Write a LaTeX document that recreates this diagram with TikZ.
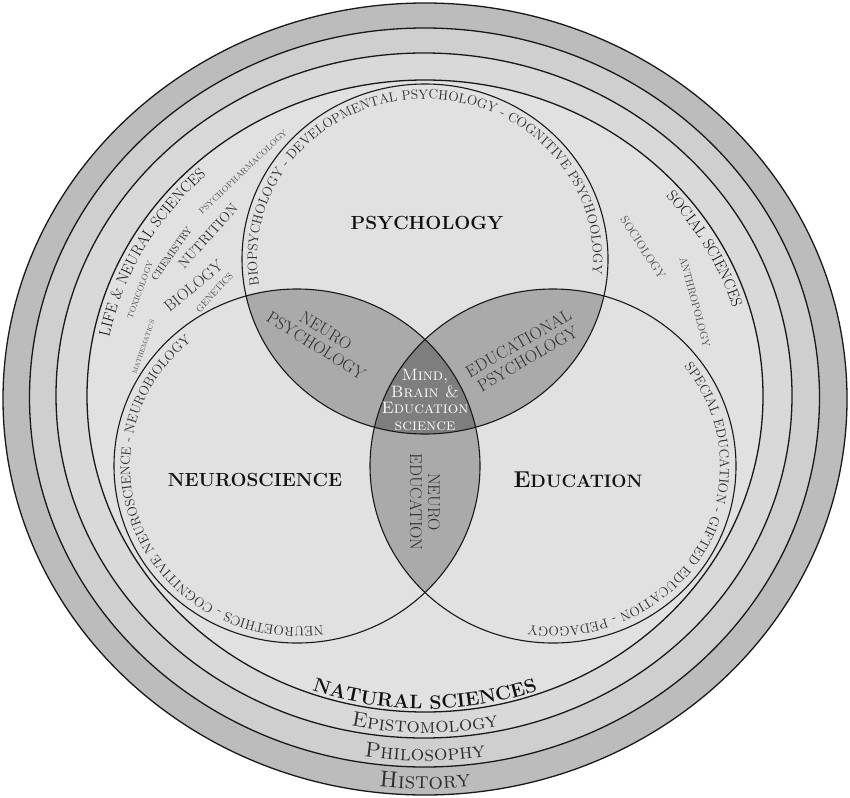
\documentclass[tikz,border=0pt]{standalone}
\usetikzlibrary{decorations.text}
\definecolor{bandA}{HTML}{BCBCBC}
\definecolor{bandB}{HTML}{CFCFCF}
\definecolor{bandC}{HTML}{D9D9D9}
\definecolor{bandD}{HTML}{E1E1E1}
\definecolor{lensgray}{HTML}{AAAAAA}
\definecolor{coregray}{HTML}{7E7E7E}
\definecolor{inkdark}{HTML}{121212}
\definecolor{inkmid}{HTML}{2E2E2E}
\definecolor{inklight}{HTML}{505050}
\newcommand\fsz[1]{\fontsize{#1}{#1}\selectfont}
\tikzset{
  ring/.style={draw=black!90, line width=1.3pt},
  venn/.style={draw=black!90, line width=1.1pt},
  curvedmid/.style={decorate, decoration={text along path, text align=center, text color=inkmid, text={#1}}},
  curveddark/.style={decorate, decoration={text along path, text align=center, text color=inkdark, text={#1}}},
  title/.style={text=inkdark, inner sep=0pt},
  lenslabel/.style={text=inkmid, align=center, inner sep=0pt, font=\fontsize{17}{18}\selectfont},
  smalltxt/.style={text=inklight, inner sep=0pt},
}
\begin{document}
\begin{tikzpicture}[x=1pt,y=1pt]
\useasboundingbox (0,0) rectangle (850,-797);
\fill[white] (0,0) rectangle (850,-797);
% outer bands
\filldraw[ring, fill=bandA] (425,-399) ellipse [x radius=422, y radius=396];
\filldraw[ring, fill=bandB] (424.5,-397.5) ellipse [x radius=395, y radius=369.5];
\filldraw[ring, fill=bandC] (424,-395.5) ellipse [x radius=368, y radius=342.5];
\filldraw[ring, fill=bandD] (425,-396) ellipse [x radius=338, y radius=316];
\coordinate (cD) at (425,-396);
% Venn
\coordinate (cP) at (425,-259);
\coordinate (cN) at (297,-466);
\coordinate (cE) at (553,-466);
\begin{scope}
  \clip (cP) ellipse [x radius=183, y radius=175];
  \fill[lensgray] (cN) ellipse [x radius=183, y radius=177];
  \fill[lensgray] (cE) ellipse [x radius=183, y radius=177];
\end{scope}
\begin{scope}
  \clip (cN) ellipse [x radius=183, y radius=177];
  \fill[lensgray] (cE) ellipse [x radius=183, y radius=177];
\end{scope}
\begin{scope}
  \clip (cP) ellipse [x radius=183, y radius=175];
  \clip (cN) ellipse [x radius=183, y radius=177];
  \fill[coregray] (cE) ellipse [x radius=183, y radius=177];
\end{scope}
\draw[venn] (cP) ellipse [x radius=183, y radius=175];
\draw[venn] (cN) ellipse [x radius=183, y radius=177];
\draw[venn] (cE) ellipse [x radius=183, y radius=177];
% texts along circles
\path[shift={(cP)}, curvedmid={|\fsz{13.5}|BIOPSYCHOLOGY - DEVELOPMENTAL PSYCHOLOGY - COGNITIVE PSYCHOOLOGY}]
  (202:168 and 160) arc[start angle=202, end angle=-18, x radius=168, y radius=160];
\path[shift={(cN)}, curvedmid={|\fsz{13.5}|NEUROETHICS - COGNITIVE NEUROSCIENCE - NEUROBIOLOGY}]
  (-56:167 and 161) arc[start angle=-56, end angle=-256, x radius=167, y radius=161];
\path[shift={(cE)}, curvedmid={|\fsz{13.5}|SPECIAL EDUCATION - GIFTED EDUCATION - PEDAGOGY}]
  (70:167 and 161) arc[start angle=70, end angle=-130, x radius=167, y radius=161];
% texts along ellipses
\path[shift={(cD)}, curveddark={|\fsz{15.5}|LIFE {\&} NEURAL SCIENCES}]
  (181:322 and 300) arc[start angle=181, end angle=121, x radius=322, y radius=300];
\path[shift={(cD)}, curveddark={|\fsz{15.5}|SOCIAL SCIENCES}]
  (59:322 and 300) arc[start angle=59, end angle=-1, x radius=322, y radius=300];
\path[shift={(cD)}, curveddark={|\fsz{19.5}\bfseries|NATURAL SCIENCES}]
  (-130:335 and 313) arc[start angle=-130, end angle=-50, x radius=335, y radius=313];
\path[shift={(cD)}, curvedmid={|\fsz{21}\scshape|Epistomology}]
  (-120:358 and 337) arc[start angle=-120, end angle=-60, x radius=358, y radius=337];
\path[shift={(cD)}, curvedmid={|\fsz{21.5}\scshape|Philosophy}]
  (-120:387 and 365) arc[start angle=-120, end angle=-60, x radius=387, y radius=365];
\path[shift={(cD)}, curvedmid={|\fsz{23}\scshape|History}]
  (-120:414 and 393) arc[start angle=-120, end angle=-60, x radius=414, y radius=393];
% titles
\node[title, font=\fsz{19}\bfseries] (psyT) at (427,-223) {PSYCHOLOGY};
\node[title, font=\fsz{19}\bfseries] (neuT) at (255,-480) {NEUROSCIENCE};
\node[title, font=\bfseries] (eduT) at (578,-480) {{\fsz{23}E}{\fsz{18}DUCATION}};
% lens labels
\node[lenslabel, rotate=-32] (npsy) at (321,-338) {NEURO\\PSYCHOLOGY};
\node[lenslabel, rotate=30] (epsy) at (523,-351) {EDUCATIONAL\\PSYCHOLOGY};
\node[lenslabel, rotate=-90] (nedu) at (425,-502) {NEURO\\EDUCATION};
\node[text=white, align=center, inner sep=0pt, font=\fontsize{16.5}{16.5}\selectfont\scshape] (mbe) at (425,-400) {Mind,\\Brain \&\\Education\\science};
% small subject labels
\node[smalltxt, font=\fsz{8.4}, rotate=43.5] (pharm) at (243,-172) {PSYCHOPHARMACOLOGY};
\node[smalltxt, font=\fsz{10.3}, rotate=55, text=inkmid] (chem) at (171.5,-253.5) {CHEMISTRY};
\node[smalltxt, font=\fsz{14}, rotate=48, text=inkmid] (nutr) at (208,-236) {NUTRITION};
\node[smalltxt, font=\fsz{16}, rotate=39.5, text=inkmid] (bio) at (193.5,-286) {BIOLOGY};
\node[smalltxt, font=\fsz{9.5}, rotate=48] (gene) at (214.5,-292.5) {GENETICS};
\node[smalltxt, font=\fsz{8.2}, rotate=70] (toxi) at (140,-290) {TOXICOLOGY};
\node[smalltxt, font=\fsz{6.5}, rotate=71] (math) at (143.5,-347) {MATHEMATICS};
\node[smalltxt, font=\fsz{12}, rotate=-56.7] (soci) at (643,-247.5) {SOCIOLOGY};
\node[smalltxt, font=\fsz{10.5}, rotate=-75] (anth) at (695,-302) {ANTHROPOLOGY};
\end{tikzpicture}
\end{document}
